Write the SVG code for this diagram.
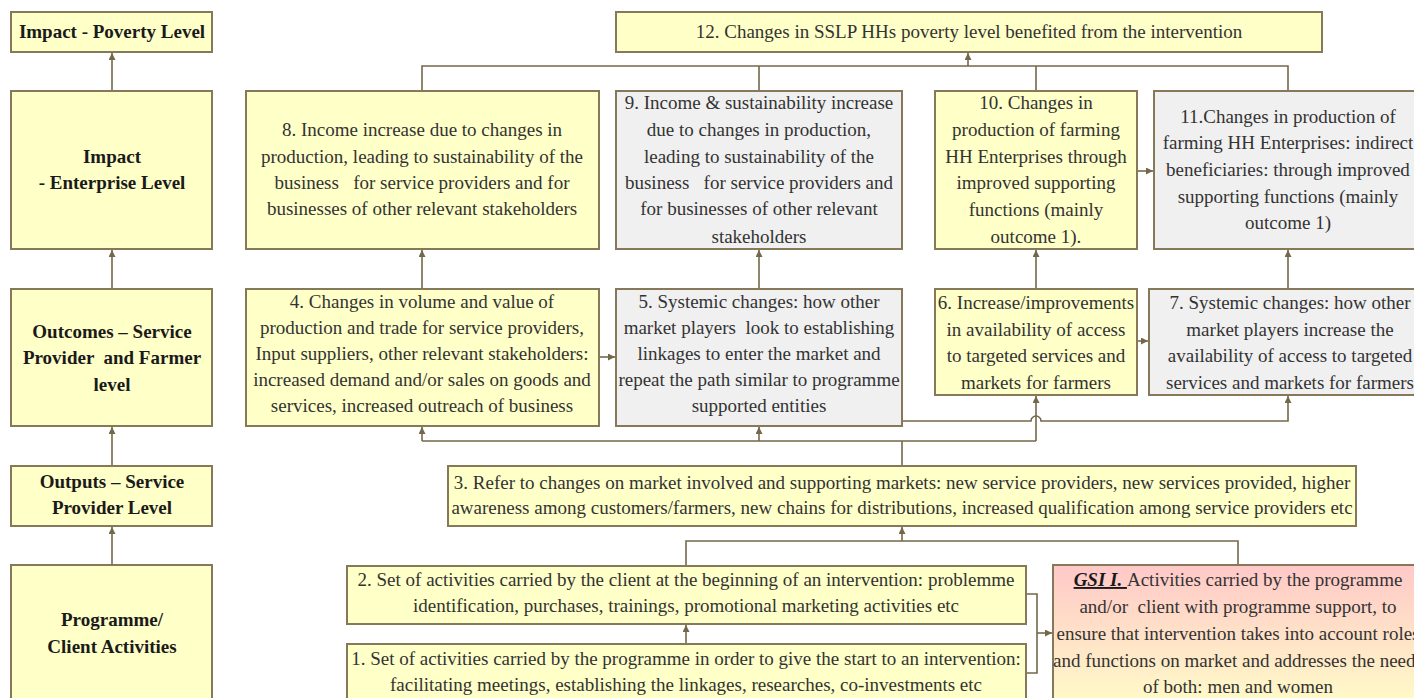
<svg xmlns="http://www.w3.org/2000/svg" width="1414" height="698" viewBox="0 0 1414 698">
<defs>
<style>
.y{fill:#ffffc8;stroke:#85795a;stroke-width:2}
.g{fill:#f0f0f0;stroke:#85795a;stroke-width:2}
.p{fill:url(#gsi);stroke:#85795a;stroke-width:2}
.t{font-family:"Liberation Serif","Times New Roman",serif;font-size:19px;fill:#333;text-anchor:middle;white-space:pre}
.b{font-family:"Liberation Serif","Times New Roman",serif;font-size:19px;font-weight:bold;fill:#1a1a1a;text-anchor:middle;white-space:pre}
.c{fill:none;stroke:#75684a;stroke-width:1.6}
</style>
<marker id="ah" viewBox="0 0 10 10" refX="10" refY="5" markerWidth="7" markerHeight="7" orient="auto" markerUnits="userSpaceOnUse">
<path d="M0,0 L10,5 L0,10 z" fill="#75684a"/>
</marker>
<linearGradient id="gsi" x1="0" y1="0" x2="0" y2="1">
<stop offset="0" stop-color="#ffc8c8"/>
<stop offset="1" stop-color="#fffbc8"/>
</linearGradient>
</defs>

<g id="connectors">
<path class="c" d="M112,91 V53" marker-end="url(#ah)"/>
<path class="c" d="M112,289 V250" marker-end="url(#ah)"/>
<path class="c" d="M112,466 V427" marker-end="url(#ah)"/>
<path class="c" d="M112,565 V527" marker-end="url(#ah)"/>
<path class="c" d="M422,91 V66 H1288 V91 M759,66 V91 M1036,66 V91"/>
<path class="c" d="M968,66 V53" marker-end="url(#ah)"/>
<path class="c" d="M422,289 V250" marker-end="url(#ah)"/>
<path class="c" d="M759,289 V250" marker-end="url(#ah)"/>
<path class="c" d="M1036,289 V250" marker-end="url(#ah)"/>
<path class="c" d="M1288,289 V250" marker-end="url(#ah)"/>
<path class="c" d="M1137,171 H1153" marker-end="url(#ah)"/>
<path class="c" d="M599,357 H615" marker-end="url(#ah)"/>
<path class="c" d="M1137,341 H1148" marker-end="url(#ah)"/>
<path class="c" d="M902,466 V441 M422,441 H1036"/>
<path class="c" d="M422,441 V427" marker-end="url(#ah)"/>
<path class="c" d="M759,441 V427" marker-end="url(#ah)"/>
<path class="c" d="M1036,441 V396" marker-end="url(#ah)"/>
<path class="c" d="M902,421 H1031 A5,5 0 0 1 1041,421 H1288 V396" marker-end="url(#ah)"/>
<path class="c" d="M686,566 V541 H1238 V565"/>
<path class="c" d="M902,541 V527" marker-end="url(#ah)"/>
<path class="c" d="M686,644 V625" marker-end="url(#ah)"/>
<path class="c" d="M1026,594 H1037 V673 H1026"/>
<path class="c" d="M1037,633 H1052" marker-end="url(#ah)"/>
</g>

<g id="lvl-poverty">
<rect class="y" x="11" y="12" width="201" height="40"/>
<text class="b" x="112" y="38">Impact - Poverty Level</text>
</g>
<g id="lvl-enterprise">
<rect class="y" x="11" y="91" width="201" height="158"/>
<text class="b" x="112" y="163">Impact</text>
<text class="b" x="112" y="189">- Enterprise Level</text>
</g>
<g id="lvl-outcomes">
<rect class="y" x="11" y="289" width="201" height="137"/>
<text class="b" x="112" y="338">Outcomes – Service</text>
<text class="b" x="112" y="364">Provider  and Farmer</text>
<text class="b" x="112" y="391">level</text>
</g>
<g id="lvl-outputs">
<rect class="y" x="11" y="466" width="201" height="60"/>
<text class="b" x="112" y="488">Outputs – Service</text>
<text class="b" x="112" y="514">Provider Level</text>
</g>
<g id="lvl-activities">
<rect class="y" x="11" y="565" width="201" height="140"/>
<text class="b" x="112" y="626">Programme/</text>
<text class="b" x="112" y="653">Client Activities</text>
</g>

<g id="n12">
<rect class="y" x="616" y="12" width="706" height="40"/>
<text class="t" x="969" y="38">12. Changes in SSLP HHs poverty level benefited from the intervention</text>
</g>
<g id="n8">
<rect class="y" x="246" y="91" width="353" height="158"/>
<text class="t" x="422" y="136">8. Income increase due to changes in</text>
<text class="t" x="422" y="163">production, leading to sustainability of the</text>
<text class="t" x="422" y="189">business   for service providers and for</text>
<text class="t" x="422" y="215">businesses of other relevant stakeholders</text>
</g>
<g id="n9">
<rect class="g" x="616" y="91" width="286" height="158"/>
<text class="t" x="759" y="109">9. Income &amp; sustainability increase</text>
<text class="t" x="759" y="136">due to changes in production,</text>
<text class="t" x="759" y="163">leading to sustainability of the</text>
<text class="t" x="759" y="189">business   for service providers and</text>
<text class="t" x="759" y="215">for businesses of other relevant</text>
<text class="t" x="759" y="243">stakeholders</text>
</g>
<g id="n10">
<rect class="y" x="935" y="91" width="202" height="158"/>
<text class="t" x="1036" y="109">10. Changes in</text>
<text class="t" x="1036" y="136">production of farming</text>
<text class="t" x="1036" y="163">HH Enterprises through</text>
<text class="t" x="1036" y="189">improved supporting</text>
<text class="t" x="1036" y="216">functions (mainly</text>
<text class="t" x="1036" y="243">outcome 1).</text>
</g>
<g id="n11">
<rect class="g" x="1154" y="91" width="268" height="158"/>
<text class="t" x="1288" y="123">11.Changes in production of</text>
<text class="t" x="1288" y="149">farming HH Enterprises: indirect</text>
<text class="t" x="1288" y="176">beneficiaries: through improved</text>
<text class="t" x="1288" y="203">supporting functions (mainly</text>
<text class="t" x="1288" y="229">outcome 1)</text>
</g>
<g id="n4">
<rect class="y" x="246" y="289" width="353" height="137"/>
<text class="t" x="422" y="308">4. Changes in volume and value of</text>
<text class="t" x="422" y="334">production and trade for service providers,</text>
<text class="t" x="422" y="360">Input suppliers, other relevant stakeholders:</text>
<text class="t" x="422" y="386">increased demand and/or sales on goods and</text>
<text class="t" x="422" y="412">services, increased outreach of business</text>
</g>
<g id="n5">
<rect class="g" x="616" y="289" width="286" height="137"/>
<text class="t" x="759" y="308">5. Systemic changes: how other</text>
<text class="t" x="759" y="334">market players  look to establishing</text>
<text class="t" x="759" y="360">linkages to enter the market and</text>
<text class="t" x="759" y="386">repeat the path similar to programme</text>
<text class="t" x="759" y="412">supported entities</text>
</g>
<g id="n6">
<rect class="y" x="935" y="289" width="202" height="106"/>
<text class="t" x="1036" y="309">6. Increase/improvements</text>
<text class="t" x="1036" y="336">in availability of access</text>
<text class="t" x="1036" y="362">to targeted services and</text>
<text class="t" x="1036" y="389">markets for farmers</text>
</g>
<g id="n7">
<rect class="g" x="1149" y="289" width="273" height="106"/>
<text class="t" x="1290" y="309">7. Systemic changes: how other</text>
<text class="t" x="1290" y="336">market players increase the</text>
<text class="t" x="1290" y="362">availability of access to targeted</text>
<text class="t" x="1290" y="389">services and markets for farmers</text>
</g>
<g id="n3">
<rect class="y" x="448" y="466" width="908" height="60"/>
<text class="t" x="902" y="489">3. Refer to changes on market involved and supporting markets: new service providers, new services provided, higher</text>
<text class="t" x="902" y="514">awareness among customers/farmers, new chains for distributions, increased qualification among service providers etc</text>
</g>
<g id="n2">
<rect class="y" x="347" y="566" width="679" height="58"/>
<text class="t" x="686" y="586">2. Set of activities carried by the client at the beginning of an intervention: problemme</text>
<text class="t" x="686" y="612">identification, purchases, trainings, promotional marketing activities etc</text>
</g>
<g id="n1">
<rect class="y" x="347" y="644" width="679" height="60"/>
<text class="t" x="686" y="665">1. Set of activities carried by the programme in order to give the start to an intervention:</text>
<text class="t" x="686" y="691">facilitating meetings, establishing the linkages, researches, co-investments etc</text>
</g>
<g id="gsi1">
<rect class="p" x="1053" y="565" width="370" height="140"/>
<text class="t" x="1238" y="586"><tspan font-weight="bold" font-style="italic" text-decoration="underline" fill="#1a1a1a">GSI I. </tspan>Activities carried by the programme</text>
<text class="t" x="1238" y="613">and/or  client with programme support, to</text>
<text class="t" x="1238" y="640">ensure that intervention takes into account roles</text>
<text class="t" x="1238" y="667">and functions on market and addresses the needs</text>
<text class="t" x="1238" y="693">of both: men and women</text>
</g>
</svg>
